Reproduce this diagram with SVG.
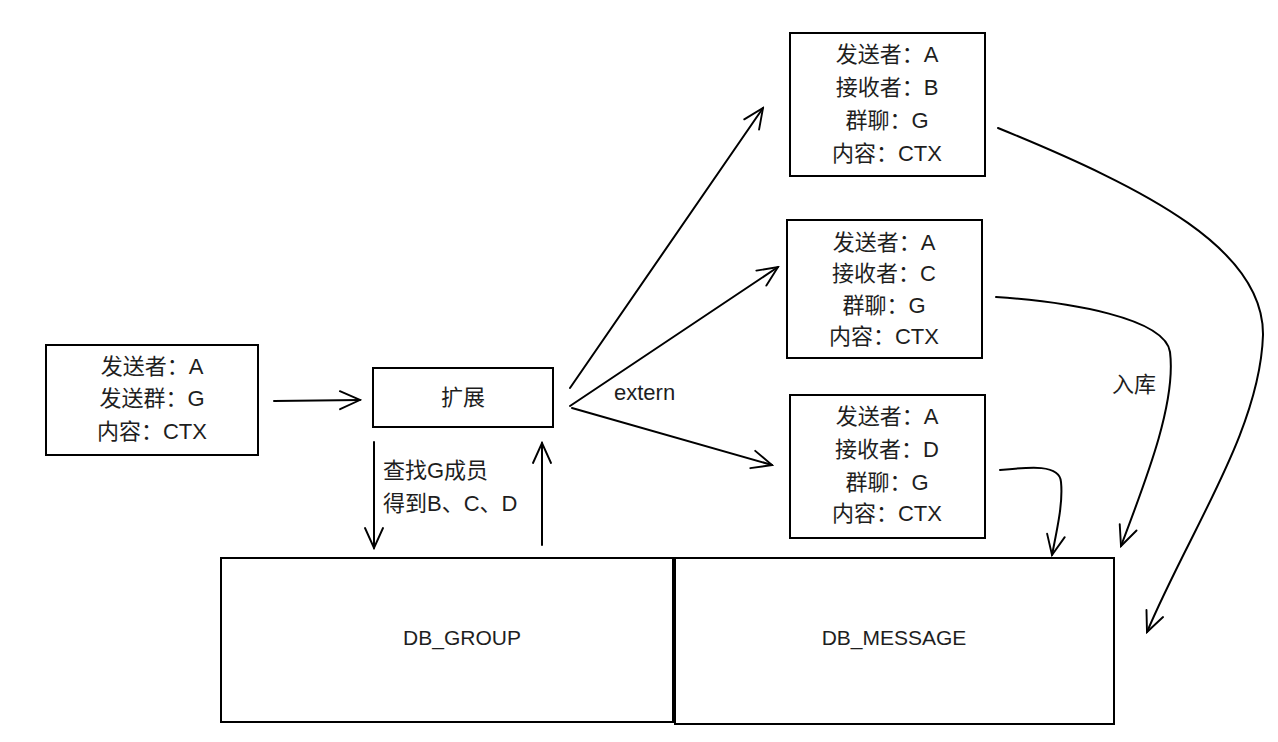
<svg xmlns="http://www.w3.org/2000/svg" width="1278" height="742" viewBox="0 0 1278 742">
<defs>
<style>
.box{fill:none;stroke:#000;stroke-width:2}
.line{fill:none;stroke:#000;stroke-width:2;stroke-linecap:round}
.t{font-family:"Liberation Sans","Noto Sans CJK SC",sans-serif;font-size:22px;fill:#1e1e1e;text-anchor:middle}
.tl{font-family:"Liberation Sans","Noto Sans CJK SC",sans-serif;font-size:22px;fill:#1e1e1e}
.db{font-family:"Liberation Sans","Noto Sans CJK SC",sans-serif;font-size:21px;fill:#1e1e1e;text-anchor:middle}
</style>
<marker id="ah" viewBox="-22 -12 24 24" refX="0" refY="0" markerWidth="24" markerHeight="24" markerUnits="userSpaceOnUse" orient="auto">
<path d="M-20,-9 L0,0 L-20,9" fill="none" stroke="#000" stroke-width="1.9" stroke-linecap="round"/>
</marker>
</defs>
<rect width="1278" height="742" fill="#fff"/>
<g id="connectors">
<path class="line" d="M274,401 L360,400" marker-end="url(#ah)"/>
<path class="line" d="M570,388 L763,108" marker-end="url(#ah)"/>
<path class="line" d="M570,406 L778,267" marker-end="url(#ah)"/>
<path class="line" d="M572,408 L772,465" marker-end="url(#ah)"/>
<path class="line" d="M374,442 L374,548" marker-end="url(#ah)"/>
<path class="line" d="M542,545 L542,443" marker-end="url(#ah)"/>
<path class="line" d="M998,128 C1150,190 1264,250 1263,335 C1260,430 1190,530 1147,632" marker-end="url(#ah)"/>
<path class="line" d="M996,297 C1070,302 1165,318 1170,352 C1176,400 1150,470 1121,546" marker-end="url(#ah)"/>
<path class="line" d="M1000,470 C1030,467 1060,464 1061,482 C1063,502 1058,525 1052,555" marker-end="url(#ah)"/>
<text class="tl" x="614" y="400">extern</text>
<text class="tl" x="1112" y="392">入库</text>
<text class="tl" x="383" y="478">查找G成员</text>
<text class="tl" x="383" y="511">得到B、C、D</text>
</g>
<g id="source">
<rect class="box" x="46" y="345" width="212" height="110"/>
<text class="t" x="152" y="374">发送者：A</text>
<text class="t" x="152" y="406">发送群：G</text>
<text class="t" x="152" y="439">内容：CTX</text>
</g>
<g id="expand">
<rect class="box" x="373" y="368" width="180" height="59"/>
<text class="t" x="463" y="405">扩展</text>
</g>
<g id="msgB">
<rect class="box" x="790" y="33" width="195" height="143"/>
<text class="t" x="887" y="62">发送者：A</text>
<text class="t" x="887" y="95">接收者：B</text>
<text class="t" x="887" y="128">群聊：G</text>
<text class="t" x="887" y="161">内容：CTX</text>
</g>
<g id="msgC">
<rect class="box" x="787" y="220" width="195" height="138"/>
<text class="t" x="884" y="250">发送者：A</text>
<text class="t" x="884" y="281">接收者：C</text>
<text class="t" x="884" y="313">群聊：G</text>
<text class="t" x="884" y="344">内容：CTX</text>
</g>
<g id="msgD">
<rect class="box" x="790" y="395" width="195" height="143"/>
<text class="t" x="887" y="424">发送者：A</text>
<text class="t" x="887" y="457">接收者：D</text>
<text class="t" x="887" y="490">群聊：G</text>
<text class="t" x="887" y="521">内容：CTX</text>
</g>
<g id="dbGroup">
<rect class="box" x="221" y="558" width="452" height="164"/>
<text class="db" x="462" y="645">DB_GROUP</text>
</g>
<g id="dbMessage">
<rect class="box" x="675" y="558" width="439" height="166"/>
<text class="db" x="894" y="645">DB_MESSAGE</text>
</g>
</svg>
